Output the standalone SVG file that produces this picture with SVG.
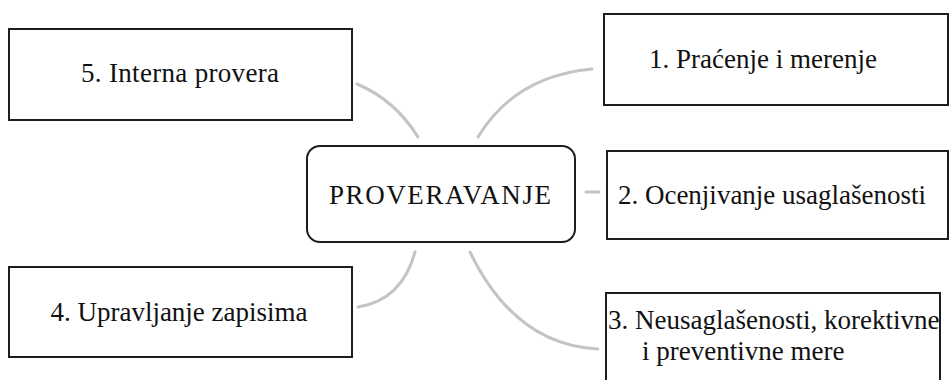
<svg xmlns="http://www.w3.org/2000/svg" width="950" height="380" viewBox="0 0 950 380">
  <style>
    .box { fill: #ffffff; stroke: #1e1e1e; stroke-width: 2; }
    .lbl { font-family: "Liberation Serif", "Times New Roman", serif; font-size: 27px; fill: #111111; }
    .link { fill: none; stroke: #c4c4c4; stroke-width: 3; stroke-linecap: round; }
  </style>
  <defs>
    <filter id="soft" x="-10%" y="-10%" width="120%" height="120%">
      <feGaussianBlur stdDeviation="0.6"/>
    </filter>
  </defs>
  <rect width="950" height="380" fill="#ffffff"/>

  <!-- connectors from the central node to each branch -->
  <g id="connectors" filter="url(#soft)">
    <path class="link" d="M357,84 Q395,100 418,137"/>
    <path class="link" d="M592,69 Q515,76 478,137"/>
    <path class="link" d="M586,192 L599,192"/>
    <path class="link" d="M470,252 Q515,345 598,349"/>
    <path class="link" d="M358,307 Q402,300 415,252"/>
  </g>

  <g id="node-center">
    <rect class="box" x="307" y="146" width="268" height="96" rx="13" ry="13"/>
    <text class="lbl" x="440" y="204" text-anchor="middle" textLength="222">PROVERAVANJE</text>
  </g>

  <g id="node-1">
    <rect class="box" x="604" y="14" width="344" height="91"/>
    <text class="lbl" x="763" y="68" text-anchor="middle">1. Praćenje i merenje</text>
  </g>

  <g id="node-2">
    <rect class="box" x="607" y="151" width="341" height="88"/>
    <text class="lbl" x="772" y="204" text-anchor="middle">2. Ocenjivanje usaglašenosti</text>
  </g>

  <g id="node-3">
    <rect class="box" x="606" y="293" width="334" height="110"/>
    <text class="lbl" x="608" y="329">3. Neusaglašenosti, korektivne</text>
    <text class="lbl" x="642" y="360">i preventivne mere</text>
  </g>

  <g id="node-4">
    <rect class="box" x="9" y="267" width="343" height="90"/>
    <text class="lbl" x="179" y="321" text-anchor="middle">4. Upravljanje zapisima</text>
  </g>

  <g id="node-5">
    <rect class="box" x="9" y="29" width="343" height="91"/>
    <text class="lbl" x="180" y="82" text-anchor="middle" textLength="198">5. Interna provera</text>
  </g>
</svg>
